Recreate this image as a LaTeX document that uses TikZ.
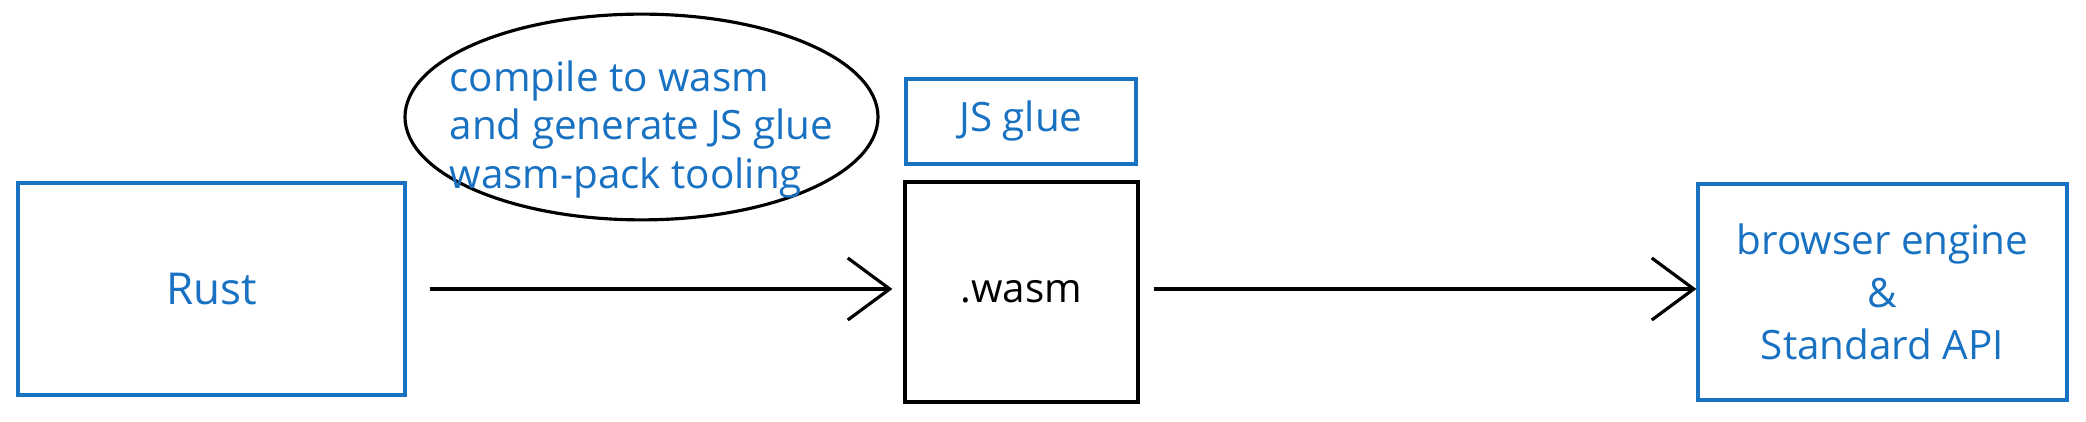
\documentclass[tikz,border=0pt]{standalone}
\usepackage{fontspec}
\setmainfont{Open Sans}
\usepackage{xcolor}
\usetikzlibrary{arrows.meta, positioning, shapes.geometric}

\definecolor{sketchblue}{HTML}{1971C2}

\begin{document}
\begin{tikzpicture}[>={Straight Barb[length=0.42cm, width=0.62cm]}, every node/.style={font=\fontsize{11.5}{14}\selectfont}, line width=0.9pt]

\useasboundingbox (0,0) rectangle (20.86,-4.22);

% Source and target (blue)
\node[rectangle,draw=sketchblue,text=sketchblue,minimum width=3.87cm,minimum height=2.12cm,font=\fontsize{12.5}{14}\selectfont] (rust) at (2.115,-2.89) {Rust};
\node[rectangle,draw=sketchblue,text=sketchblue,minimum width=3.69cm,minimum height=2.16cm,align=center,font=\fontsize{11.5}{15}\selectfont] (browser) at (18.825,-2.92) {browser engine\\\&\\Standard API};

% Build output (black)
\node[rectangle,draw=black,minimum width=2.33cm,minimum height=2.20cm] (wasm) at (10.215,-2.92) {.wasm};
\node[rectangle,draw=sketchblue,text=sketchblue,minimum width=2.30cm,minimum height=0.85cm] (jsglue) at (10.21,-1.215) {JS glue};

% Tooling note
\node[ellipse,draw=black,text=sketchblue,minimum width=4.73cm,minimum height=1.90cm,inner xsep=-0.32cm,inner ysep=0pt,font=\fontsize{11.5}{13.8}\selectfont] (tooling) at (6.415,-1.17)
  {\raisebox{-0.13cm}[\height][\depth]{\begin{tabular}{@{}l@{}}compile to wasm\\and generate JS glue\\wasm-pack tooling\end{tabular}}};

% Connections
\draw[->, shorten <=0.23cm, shorten >=0.11cm] (rust.east) -- (rust.east -| wasm.west);
\draw[->, shorten <=0.14cm] (wasm.east |- rust.east) -- (browser.west |- rust.east);

\end{tikzpicture}
\end{document}
